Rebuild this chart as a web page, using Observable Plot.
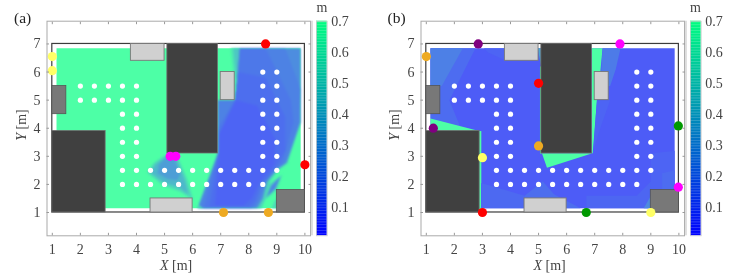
<!DOCTYPE html>
<html><head><meta charset="utf-8">
<style>
html,body{margin:0;padding:0;background:#fff}
#chart{position:relative;width:747px;height:274px;overflow:hidden;filter:blur(0.4px);font-family:"Liberation Serif",serif;color:#333}
#chart>div,#chart>svg{position:absolute}
.lab{position:absolute;white-space:nowrap;font-size:14px;line-height:14px;color:#444}
svg{font-family:"Liberation Serif",serif}
</style>
<script src="https://cdn.jsdelivr.net/npm/d3@7"></script>
<script src="https://cdn.jsdelivr.net/npm/@observablehq/plot@0.6"></script>
</head><body><div id="chart"></div>
<script>
// measurement grid (white dots): [y, list of x]
const dotRows = [
  [6,[8.5,9]],
  [5.5,[2,2.5,3,3.5,4,8.5,9]],
  [5,[2,2.5,3,3.5,4,8.5,9]],
  [4.5,[3.5,4,8.5,9]],
  [4,[3.5,4,8.5,9]],
  [3.5,[3.5,4,8.5,9]],
  [3,[3.5,4,8.5,9]],
  [2.5,[3.5,4,4.5,5,5.5,6,6.5,7,7.5,8,8.5,9]],
  [2,[3.5,4,4.5,5,5.5,6,6.5,7,7.5,8,8.5]]
];
// anchors: x, y, colour
const anchorsA = [
  [1,6.55,"#ffff66"],[1,6.05,"#ffff66"],[8.6,7,"#ff0000"],[10,2.7,"#ff0000"],
  [7.1,1,"#eeaa22"],[8.7,1,"#eeaa22"],[5.2,3,"#ff00ff"],[5.4,3,"#ff00ff"]
];
const anchorsB = [
  [2.85,7,"#800080"],[1.25,4,"#800080"],[1,6.55,"#eeaa22"],[5,3.37,"#eeaa22"],
  [5,5.6,"#ff0000"],[3,1,"#ff0000"],[3,2.95,"#ffff66"],[9,1,"#ffff66"],
  [9.98,4.08,"#009900"],[6.7,1,"#009900"],[7.9,7,"#ff00ff"],[9.98,1.9,"#ff00ff"]
];
// obstacles: x1,x2,y1,y2
const darkBlocks = [[1,2.9,1,3.9],[5.1,6.9,3.1,7]];
const midBlocks = [[1,1.5,4.5,5.5],[9,10,1,1.8]];
const lightBlocks = [[3.8,5,6.4,7],[4.5,6,1,1.5],[7,7.5,5,6]];
// error map regions, painted in order: [value, [x,y], ...]; the first is the base
const regionsA = [
  [0.70,[1.15,1.15],[9.85,1.15],[9.85,6.85],[1.15,6.85]],
  [0.60,[7.35,6.85],[7.71,6.85],[7.6,5.5],[7.5,5.5]],
  [0.48,[7.45,6.85],[7.71,6.85],[7.6,5.8],[7.55,5.8]],
  [0.52,[9.45,2.8],[9.05,2.5],[8.75,2.1],[8.6,1.5],[8.45,1.15],[8.2,1.15],[8.3,2.5]],
  [0.25,[7.71,6.85],[9.85,6.85],[9.85,4.21],[9.37,2.79],[9.02,2.55],[8.65,2.1],[8.5,1.5],[8.3,1.15],[6.17,1.15],[6.9,3.11],[6.9,5],[7.5,5],[7.58,5.6]],
  [0.21,[7.68,6.85],[9.3,6.85],[9.85,5.4],[9.8,4.2],[9.3,2.75],[8.95,2.5],[8.6,2.05],[8.42,1.5],[8.2,1.15],[6.25,1.15],[6.9,3.11],[6.9,5],[7.5,5],[7.58,5.6]],
  [0.17,[7.68,6.85],[8.6,6.85],[9.5,5],[9.6,4.2],[9.2,2.8],[8.85,2.45],[8.5,2],[8.3,1.4],[8.1,1.15],[6.4,1.15],[6.9,3.11],[6.9,4],[7.5,5],[7.58,5.6]],
  [0.13,[7.62,6],[8.6,5.8],[9.3,4.4],[9.3,3.2],[8.9,2.55],[8.45,2.05],[8.2,1.4],[8,1.2],[6.6,1.2],[6.9,3],[6.95,3.8],[7.5,5]],
  [0.09,[7.55,5],[8.3,4.8],[8.95,3.6],[8.9,2.7],[8.4,2.1],[8.1,1.5],[7.8,1.25],[6.8,1.25],[6.95,3.1],[6.95,3.8]],
  [0.70,[6.17,1.3],[6.35,1.15],[6.25,1.15]],
  [0.55,[5.02,3.05],[4.6,2.75],[4.38,2.42],[4.95,1.96],[5.55,1.75],[6.02,1.45],[5.8,2.2],[5.5,2.9]],
  [0.42,[5.05,3],[4.68,2.72],[4.5,2.42],[5,2.05],[5.5,1.9],[5.85,1.65],[5.7,2.2],[5.42,2.9]],
  [0.32,[5.1,3],[4.8,2.7],[4.75,2.4],[5.1,2.2],[5.45,2.15],[5.55,2.35],[5.35,2.9]],
  [0.55,[9.2,2.35],[9,1.8],[8.58,1.45],[8.7,2]],
  [0.22,[9.13,2.28],[8.95,1.85],[8.63,1.54],[8.8,1.95]],
  [0.55,[8.82,1.15],[9,1.15],[9,1.5],[8.92,1.4]]
];
const regionsB = [
  [0.06,[1.15,1.15],[9.85,1.15],[9.85,6.85],[1.15,6.85]],
  [0.12,[1.15,6.85],[2.75,6.85],[1.82,5],[2.25,3.95],[1.15,4.35]],
  [0.20,[1.15,6.85],[2.3,6.85],[1.55,5.5],[1.15,5.5]],
  [0.09,[3.05,6.85],[3.85,6.85],[3.85,6.4],[3.2,6.7]],
  [0.70,[1.15,4.35],[2.95,3.88],[1.15,3.88]],
  [0.70,[2.88,1],[2.96,1],[2.96,3.9],[2.88,3.9]],
  [0.70,[5.05,3.1],[5.12,3.1],[5.12,6.2],[5.05,6.2]],
  [0.35,[4.97,6.85],[5.12,6.85],[5.12,6.05]],
  [0.70,[5.12,3.11],[6.92,3.11],[5.3,2.59]],
  [0.70,[6.9,6.85],[7.28,6.85],[7.2,6],[7.08,5],[6.93,3.11],[6.9,3.11]],
  [0.18,[7.28,6.85],[7.92,6.85],[7.75,6.1],[7.55,5.5],[7.2,5.5]],
  [0.09,[7.08,5],[7.55,5],[7.2,4],[6.95,3.2]],
  [0.09,[9,3.1],[9.85,3.2],[9.85,1.8],[9,1.8]],
  [0.12,[9.4,2.4],[9.85,2.5],[9.85,1.8],[9.4,1.8]],
  [0.11,[2.95,2.05],[4.5,1.6],[4.5,1.15],[2.95,1.15]],
  [0.13,[5.15,2.1],[5.55,1.65],[6.5,1.15],[4.5,1.15],[4.5,1.6]],
  [0.10,[6.7,1.6],[8.5,1.6],[9,2.1],[9,1.15],[6.7,1.15]],
  [0.24,[8.75,1.15],[9,1.15],[9,1.6]]
];
const tickX = [1,2,3,4,5,6,7,8,9,10];
const tickY = [1,2,3,4,5,6,7];
const barTicks = [0.1,0.2,0.3,0.4,0.5,0.6,0.7];
const barMin = 0.008, barMax = 0.7;

const root = document.getElementById("chart");
const dots = dotRows.flatMap(([y,xs]) => xs.map(x => ({x,y})));
const rectTable = a => a.map(([x1,x2,y1,y2]) => ({x1,x2,y1,y2}));

function panel(regions, anchors, left, soft) {
  const table = regions.flatMap(([v,...pts],id) => pts.map(([x,y]) => ({id,v,x,y})));
  const anc = anchors.map(([x,y,c]) => ({x,y,c}));
  const p = Plot.plot({
    width: 335, height: 274,
    marginLeft: 46.5, marginRight: 25, marginTop: 20.7, marginBottom: 38.7,
    x: {domain:[0.811,10.2]},
    y: {domain:[0.17,7.81]},
    color: {type:"linear", domain:[0,0.7], range:["#4d4dff","#4dffa6"], interpolate:"rgb"},
    style: {background:"transparent", fontSize:"14px", fontFamily:"Liberation Serif, serif", color:"#444"},
    marks: [
      Plot.line(table.filter(d=>d.id===0),{x:"x",y:"y",z:"id",fill:"v",stroke:"none",curve:"linear-closed"}),
      Plot.line(table.filter(d=>d.id>0),{x:"x",y:"y",z:"id",fill:"v",stroke:"none",curve:"linear-closed"}),
      Plot.rect([{x1:1,x2:10,y1:1,y2:7}],{x1:"x1",x2:"x2",y1:"y1",y2:"y2",fill:"none",stroke:"#3c3c3c",strokeWidth:1.2}),
      Plot.rect(rectTable(darkBlocks),{x1:"x1",x2:"x2",y1:"y1",y2:"y2",fill:"#404040",stroke:"#6e6e6e",strokeWidth:0.8,inset:0}),
      Plot.rect(rectTable(midBlocks),{x1:"x1",x2:"x2",y1:"y1",y2:"y2",fill:"#787878",stroke:"#555",strokeWidth:0.8}),
      Plot.rect(rectTable(lightBlocks),{x1:"x1",x2:"x2",y1:"y1",y2:"y2",fill:"#d0d0d0",stroke:"#777",strokeWidth:0.9}),
      Plot.dot(dots,{x:"x",y:"y",r:2.6,fill:"#fff",stroke:"none"}),
      Plot.dot(anc,{x:"x",y:"y",r:4.6,fill:d=>d.c,stroke:"none"}),
      Plot.frame({stroke:"#aaa",strokeWidth:1}),
      Plot.ruleX([10.2],{dx:1.4,stroke:"#ddd",strokeWidth:2}),
      Plot.axisX(tickX,{anchor:"bottom",tickSize:-2.5,tickPadding:10.5,label:null,stroke:"#999",fill:"#444"}),
      Plot.axisY(tickY,{anchor:"left",tickSize:-2.5,tickPadding:9,label:null,stroke:"#999",fill:"#444"}),
      Plot.axisX(tickX,{anchor:"top",tickSize:-2.5,tickFormat:()=>"",label:null,stroke:"#999"}),
      Plot.axisY(tickY,{anchor:"right",tickSize:-2.5,tickFormat:()=>"",label:null,stroke:"#999"})
    ]
  });
  p.style.left = left + "px";
  p.style.top = "0";
  if (soft) p.querySelectorAll('g[aria-label="line"]')[1].style.filter = `blur(${soft}px)`;
  root.appendChild(p);
}

function colorbar(left) {
  const stops = d3.range(barMin, barMax, 0.005);
  const p = Plot.plot({
    width: 50, height: 274,
    marginLeft: 0, marginRight: 39.3, marginTop: 20.7, marginBottom: 38.7,
    x: {axis:null, domain:[0,1]},
    y: {domain:[barMin,barMax]},
    color: {type:"linear", domain:[0,0.7], range:["#0000ff","#00ff80"], interpolate:"rgb"},
    style: {background:"transparent", fontSize:"14px", fontFamily:"Liberation Serif, serif", color:"#444"},
    marks: [
      Plot.rect(stops,{x1:0,x2:1,y1:d=>d,y2:d=>Math.min(d+0.0055,barMax),fill:d=>d}),
      Plot.frame({stroke:"#ccc",strokeWidth:0.8}),
      Plot.axisY(barTicks,{anchor:"right",tickSize:0,tickPadding:4,label:null,tickFormat:d3.format(".1f"),fill:"#444"})
    ]
  });
  p.style.left = left + "px";
  p.style.top = "0";
  root.appendChild(p);
}

function label(html, x, y, extra) {
  const d = document.createElement("span");
  d.className = "lab";
  d.innerHTML = html;
  d.style.left = x + "px";
  d.style.top = y + "px";
  if (extra) Object.assign(d.style, extra);
  root.appendChild(d);
}

panel(regionsA, anchorsA, 0, 1);
panel(regionsB, anchorsB, 373.5, 0);
colorbar(316);
colorbar(690);

for (const [dx, name] of [[0,"(a)"],[373.5,"(b)"]]) {
  label(`<i>X</i> [m]`, 160+dx, 259);
  label(`<i>Y</i> [m]`, 1.5+dx, 118, {transform:"rotate(-90deg)", transformOrigin:"50% 50%", width:"40px", textAlign:"center"});
  label("m", 316.5+dx, 0.5);
  label(name, 14+dx, 11, {fontSize:"15.5px", color:"#222"});
}
</script></body></html>
